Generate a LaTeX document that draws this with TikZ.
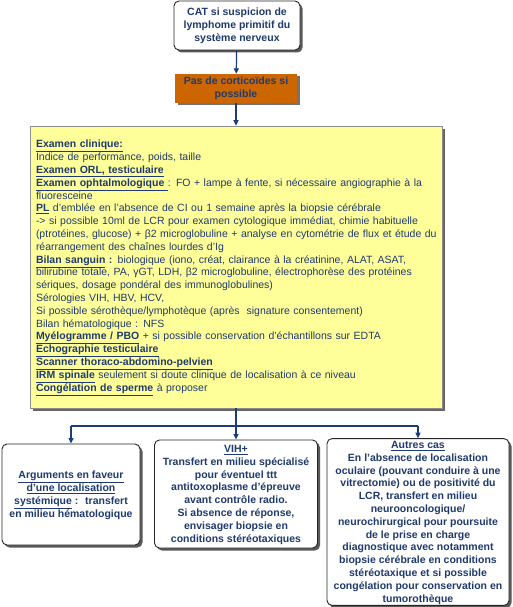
\documentclass[tikz,border=0pt]{standalone}
\usepackage{fontspec}
\setmainfont{Liberation Sans}
\usetikzlibrary{positioning,arrows.meta,shadows}
\definecolor{NavyText}{HTML}{1F3A6E}
\definecolor{NavyLine}{HTML}{1A3C78}
\definecolor{CortOrange}{HTML}{CC6600}
\definecolor{ExamYellow}{HTML}{FFFF99}
\newcommand{\usm}[1]{\smash{\underline{#1}}\strut}
\newcommand{\uhead}[1]{\smash{\underline{\textbf{#1}}}\strut}

\begin{document}
\begin{tikzpicture}[x=1pt,y=-1pt,
  font=\fontsize{10.5}{12.8}\selectfont,
  card/.style={draw=black!85,fill=white,rounded corners=5pt,line width=0.9pt,
               drop shadow={shadow xshift=2.5pt,shadow yshift=-2.5pt,fill=black!65,opacity=1},
               align=center,font=\bfseries\fontsize{10.5}{12.8}\selectfont,
               text=NavyText,inner sep=1pt},
  cort/.style={fill=CortOrange,draw=none,
               drop shadow={shadow xshift=2.5pt,shadow yshift=-2.5pt,fill=black!55,opacity=1},
               align=center,font=\bfseries\fontsize{10.5}{12.8}\selectfont,
               text=NavyText,inner sep=1pt},
  exam/.style={fill=ExamYellow,draw=black!45,line width=0.6pt,
               drop shadow={shadow xshift=3pt,shadow yshift=-3pt,fill=black!60,opacity=1},
               align=left,text=NavyText,text width=400pt,inner xsep=6pt},
  ar/.style={-{Triangle[length=5.5pt,width=5pt]},draw=NavyLine,line width=1.2pt},
  bus/.style={draw=NavyLine,line width=1.2pt},
]
\useasboundingbox (0,0) rectangle (513,607);

\node[card,minimum width=126pt,minimum height=49pt] (cat) at (237,25.5)
  {CAT si suspicion de\\lymphome primitif du\\système nerveux};
\node[cort,minimum width=122pt,minimum height=29pt] (cort) at (236,88.5)
  {Pas de corticoïdes si\\possible};

\node[exam,minimum width=412pt,minimum height=282pt] (exam) at (236,267) {%
\uhead{Examen clinique:}\\
Indice de performance, poids, taille\\
\uhead{Examen ORL, testiculaire}\\
\uhead{Examen ophtalmologique\ }: FO + lampe à fente, si nécessaire angiographie à la\\
fluoresceine\\
\uhead{PL} d’emblée en l’absence de CI ou 1 semaine après la biopsie cérébrale\\
-> si possible 10ml de LCR pour examen cytologique immédiat, chimie habituelle\\
\mbox{(ptrotéines, glucose) + β2 microglobuline + analyse en cytométrie de flux et étude du}\\
réarrangement des chaînes lourdes d’Ig\\
\uhead{Bilan sanguin} \textbf{:} biologique (iono, créat, clairance à la créatinine, ALAT, ASAT,\\
bilirubine totale, PA, γGT, LDH, β2 microglobuline, électrophorèse des protéines\\
sériques, dosage pondéral des immunoglobulines)\\
Sérologies VIH, HBV, HCV,\\
Si possible sérothèque/lymphotèque (après~ signature consentement)\\
Bilan hématologique : NFS\\
\uhead{Myélogramme / PBO} + si possible conservation d’échantillons sur EDTA\\
\uhead{Echographie testiculaire}\\
\uhead{Scanner thoraco-abdomino-pelvien}\\
\uhead{IRM spinale} seulement si doute clinique de localisation à ce niveau\\
\uhead{Congélation de sperme} à proposer};

\node[card,minimum width=138pt,minimum height=101pt] (arg) at (71,494.5)
  {\usm{Arguments en faveur}\\\usm{d’une localisation}\\
   \usm{systémique} :~ transfert\\en milieu hématologique};
\node[card,minimum width=163pt,minimum height=108pt] (vih) at (236,494)
  {\usm{VIH+}\\Transfert en milieu spécialisé\\pour éventuel ttt\\
   antitoxoplasme d'épreuve\\avant contrôle radio.\\Si absence de réponse,\\
   envisager biopsie en\\conditions stéréotaxiques};
\node[card,minimum width=182pt,minimum height=162pt] (autres) at (418,522)
  {\usm{Autres cas}\\En l’absence de localisation\\oculaire (pouvant conduire à une\\
   vitrectomie) ou de positivité du\\LCR, transfert en milieu\\neurooncologique/\\
   neurochirurgical pour poursuite\\de le prise en charge\\diagnostique avec notamment\\
   biopsie cérébrale en conditions\\stéréotaxique et si possible\\
   congélation pour conservation en\\tumorothèque};

% connectors
\coordinate (busl) at (arg.north |- 0,426);
\coordinate (busr) at (autres.north |- 0,426);
\draw[ar] (cat) -- (cort);
\draw[ar] (cort) -- (exam);
\draw[ar] (exam) -- (vih);
\draw[bus] (busl) -- (busr);
\draw[ar] (busl) -- (arg);
\draw[ar] (busr) -- (autres);
\end{tikzpicture}
\end{document}
